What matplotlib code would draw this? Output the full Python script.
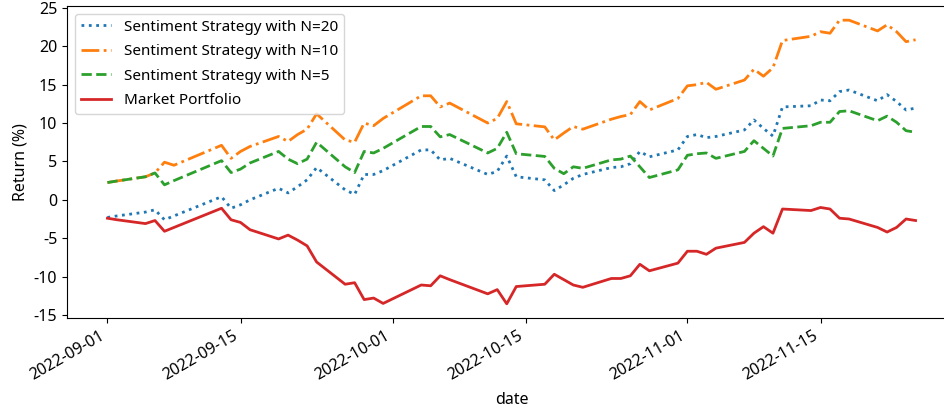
import pandas as pd
import matplotlib.pyplot as plt
import matplotlib.dates as mdates

plt.rcParams['font.family'] = ['Noto Sans', 'DejaVu Sans']
plt.rcParams['axes.unicode_minus'] = False

# 거래일 (KRX)
dates = pd.to_datetime([
    '2022-09-01', '2022-09-02', '2022-09-05', '2022-09-06', '2022-09-07', '2022-09-08',
    '2022-09-13', '2022-09-14', '2022-09-15', '2022-09-16', '2022-09-19', '2022-09-20',
    '2022-09-21', '2022-09-22', '2022-09-23', '2022-09-26', '2022-09-27', '2022-09-28',
    '2022-09-29', '2022-09-30',
    '2022-10-04', '2022-10-05', '2022-10-06', '2022-10-07', '2022-10-11', '2022-10-12',
    '2022-10-13', '2022-10-14', '2022-10-17', '2022-10-18', '2022-10-19', '2022-10-20',
    '2022-10-21', '2022-10-24', '2022-10-25', '2022-10-26', '2022-10-27', '2022-10-28',
    '2022-10-31',
    '2022-11-01', '2022-11-02', '2022-11-03', '2022-11-04', '2022-11-07', '2022-11-08',
    '2022-11-09', '2022-11-10', '2022-11-11', '2022-11-14', '2022-11-15', '2022-11-16',
    '2022-11-17', '2022-11-18', '2022-11-21', '2022-11-22', '2022-11-23', '2022-11-24',
    '2022-11-25',
])

# 누적 수익률 (%)
n20 = [-2.3, -2.1, -1.6, -1.3, -2.6, -2.1, 0.4, -1.1, -0.65, 0.0, 1.5, 0.9,
       1.7, 2.6, 4.2, 1.3, 0.7, 3.3, 3.3, 3.8,
       6.5, 6.5, 5.2, 5.4, 3.3, 3.7, 5.7, 3.0, 2.6, 1.2, 1.95, 2.8,
       3.3, 4.2, 4.3, 4.7, 6.3, 5.6, 6.5,
       8.25, 8.5, 8.1, 8.25, 9.1, 10.4, 9.3, 8.3, 12.1, 12.25, 13.0, 12.9,
       14.1, 14.3, 12.9, 13.7, 12.8, 11.7, 11.95]

n10 = [2.25, 2.45, 3.0, 3.5, 4.9, 4.5, 7.1, 5.4, 6.3, 6.95, 8.25, 7.6,
       8.5, 9.2, 11.2, 7.8, 7.5, 10.0, 9.65, 10.6,
       13.55, 13.55, 12.1, 12.6, 10.0, 10.6, 12.8, 9.9, 9.5, 7.8, 8.7, 9.55,
       9.2, 10.5, 10.85, 11.1, 12.8, 11.7, 13.2,
       14.85, 15.0, 15.3, 14.4, 15.6, 17.0, 16.1, 17.2, 20.75, 21.3, 21.9, 21.7,
       23.4, 23.4, 22.0, 22.8, 21.9, 20.6, 20.85]

n5 = [2.25, 2.45, 3.0, 3.5, 1.95, 2.5, 5.1, 3.55, 4.0, 4.8, 6.3, 5.3,
      4.7, 5.3, 7.5, 4.3, 3.55, 6.3, 6.1, 6.7,
      9.55, 9.55, 8.2, 8.5, 6.1, 6.7, 8.8, 6.0, 5.65, 4.1, 3.4, 4.3,
      4.1, 5.2, 5.3, 5.7, 4.3, 2.9, 3.9,
      5.8, 6.0, 6.1, 5.4, 6.3, 7.7, 6.7, 5.7, 9.3, 9.65, 10.1, 10.1,
      11.5, 11.6, 10.3, 10.9, 10.1, 9.0, 8.8]

market = [-2.4, -2.6, -3.1, -2.7, -4.1, -3.6, -1.1, -2.6, -2.95, -3.9, -5.1, -4.6,
          -5.25, -6.0, -8.1, -11.0, -10.8, -13.0, -12.8, -13.5,
          -11.1, -11.2, -9.9, -10.4, -12.25, -11.7, -13.55, -11.3, -11.0, -9.7, -10.4, -11.1,
          -11.4, -10.25, -10.25, -9.9, -8.4, -9.25, -8.25,
          -6.7, -6.7, -7.1, -6.3, -5.55, -4.35, -3.5, -4.35, -1.2, -1.4, -1.0, -1.2,
          -2.4, -2.5, -3.6, -4.2, -3.6, -2.5, -2.7]

fig = plt.figure(figsize=(9.44, 4.08), dpi=100)
ax = fig.add_axes([0.071, 0.2206, 0.9417, 0.7647])

ax.plot(dates, n20, ':', color='tab:blue', linewidth=2, label='Sentiment Strategy with N=20')
ax.plot(dates, n10, '-.', color='tab:orange', linewidth=2, label='Sentiment Strategy with N=10')
ax.plot(dates, n5, '--', color='tab:green', linewidth=2, label='Sentiment Strategy with N=5')
ax.plot(dates, market, '-', color='tab:red', linewidth=2, label='Market Portfolio')

ax.xaxis.set_major_locator(mdates.DayLocator(bymonthday=[1, 15]))
ax.xaxis.set_major_formatter(mdates.DateFormatter('%Y-%m-%d'))
for lbl in ax.get_xticklabels():
    lbl.set_rotation(30)
    lbl.set_ha('right')

ax.tick_params(labelsize=11.5)
ax.set_xlabel('date', fontsize=11.5, labelpad=6)
ax.set_ylabel('Return (%)', fontsize=11.5)
ax.legend(loc='upper left', fontsize=11, labelspacing=0.62)

plt.savefig('out.png', dpi=100)
